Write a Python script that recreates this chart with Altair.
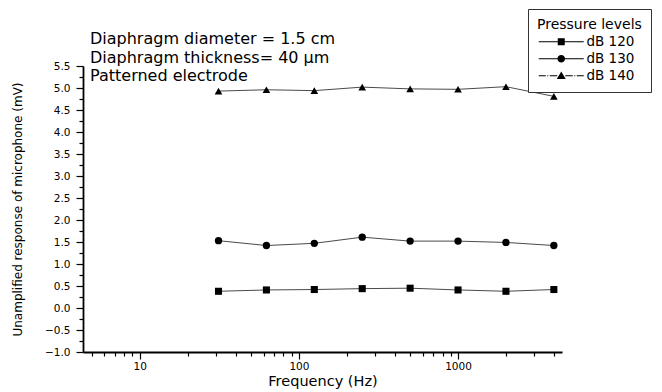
import altair as alt
import pandas as pd

# Octave-band test frequencies (Hz)
freqs = [31.25, 62.5, 125, 250, 500, 1000, 2000, 4000]

# Unamplified microphone output (mV) at each sound pressure level
levels = ["dB 120", "dB 130", "dB 140"]
resp_120 = [0.38, 0.41, 0.42, 0.44, 0.45, 0.41, 0.38, 0.42]
resp_130 = [1.53, 1.42, 1.47, 1.61, 1.52, 1.52, 1.49, 1.42]
resp_140 = [4.93, 4.96, 4.94, 5.02, 4.98, 4.97, 5.03, 4.81]

notes = [
    "Diaphragm diameter = 1.5 cm",
    "Diaphragm thickness= 40 \u03bcm",
    "Patterned electrode",
]

y_major = [-1.0, -0.5, 0.0, 0.5, 1.0, 1.5, 2.0, 2.5, 3.0, 3.5, 4.0, 4.5, 5.0, 5.5]
y_minor = [-0.75, -0.25, 0.25, 0.75, 1.25, 1.75, 2.25, 2.75, 3.25, 3.75, 4.25, 4.75, 5.25]
x_major = [10, 100, 1000]
x_minor = [5, 6, 7, 8, 9, 20, 30, 40, 50, 60, 70, 80, 90,
           200, 300, 400, 500, 600, 700, 800, 900, 2000, 3000, 4000]

df = pd.DataFrame({
    "freq": freqs * 3,
    "value": resp_120 + resp_130 + resp_140,
    "level": [lv for lv in levels for _ in freqs],
})
notes_df = pd.DataFrame({"note": ["\n".join(notes)]})

FONT = "DejaVu Sans"

xscale = alt.Scale(type="log", domain=[4.4, 4500], nice=False)
yscale = alt.Scale(domain=[-1.0, 5.5], nice=False, zero=False)

common_axis = dict(grid=False, domainColor="black", tickColor="black",
                   labelColor="black", titleColor="black",
                   labelFont=FONT, titleFont=FONT, titleFontWeight="normal")

x_axis_major = alt.Axis(orient="bottom", values=x_major, format="d", tickSize=7,
                        tickWidth=1.2, domainWidth=1.8, labelFontSize=10.5,
                        labelPadding=2, title="Frequency (Hz)", titleFontSize=14.5,
                        titleBaseline="alphabetic", titleY=33, **common_axis)
x_axis_minor = alt.Axis(orient="bottom", values=x_minor, labels=False, tickSize=4,
                        tickWidth=1.2, domain=False, title=None, grid=False,
                        tickColor="black")
y_axis_major = alt.Axis(orient="left", values=y_major, format=".1f", tickSize=7,
                        tickWidth=1.2, domainWidth=1.8, labelFontSize=10.5,
                        labelPadding=6,
                        title="Unamplified response of microphone (mV)",
                        titleFontSize=12, titleX=-66, titleY=143,
                        titleAngle=270, titleAlign="center",
                        titleBaseline="middle", **common_axis)
y_axis_minor = alt.Axis(orient="left", values=y_minor, labels=False, tickSize=4,
                        tickWidth=1.2, domain=False, title=None, grid=False,
                        tickColor="black")

# Legend symbols: thin filled bars for the connecting line (dash-dot for the
# top level) with the series marker in the middle
legend_paths = [
    "M-1,-0.1H2.8V0.1H-1ZM4.2,-0.1H8V0.1H4.2Z"
    "M2.8,-0.7H4.2V0.7H2.8Z",
    "M-1,-0.1H2.8V0.1H-1ZM4.2,-0.1H8V0.1H4.2Z"
    "M2.74,0A0.76,0.76,0,1,1,4.26,0A0.76,0.76,0,1,1,2.74,0Z",
    "M-1,-0.1H0.4V0.1H-1ZM0.7,-0.1H0.9V0.1H0.7ZM1.2,-0.1H2.7V0.1H1.2Z"
    "M4.3,-0.1H5.8V0.1H4.3ZM6.1,-0.1H6.3V0.1H6.1ZM6.6,-0.1H8V0.1H6.6Z"
    "M3.5,-0.85L4.4,0.65L2.6,0.65Z",
]

base = alt.Chart(df)

lines = base.mark_line(color="#4a4a4a", strokeWidth=1).encode(
    x=alt.X("freq:Q", scale=xscale, axis=x_axis_major),
    y=alt.Y("value:Q", scale=yscale, axis=y_axis_major),
    detail="level:N",
)

points = base.mark_point(filled=True, color="black", opacity=1).encode(
    x=alt.X("freq:Q", scale=xscale, axis=x_axis_minor),
    y=alt.Y("value:Q", scale=yscale, axis=y_axis_minor),
    shape=alt.Shape("level:N", scale=alt.Scale(domain=levels,
                    range=["square", "circle", "triangle-up"]), legend=None),
    size=alt.Size("level:O", scale=alt.Scale(domain=levels, range=[50, 58, 72]),
                  legend=None),
)

legend_layer = base.transform_filter("false").mark_point(
    filled=True, fill="black", opacity=1
).encode(
    shape=alt.Shape("level:N", scale=alt.Scale(domain=levels, range=legend_paths),
                    legend=alt.Legend(
                        title="Pressure levels", orient="none",
                        legendX=445, legendY=-57, direction="vertical",
                        padding=9, strokeColor="#333333", fillColor="white",
                        titleFont=FONT, titleFontSize=14,
                        titleFontWeight="normal", titleColor="black",
                        titlePadding=3, titleAnchor="start",
                        labelFont=FONT, labelFontSize=13.5, labelColor="black",
                        labelOffset=36, symbolSize=100,
                        symbolFillColor="black", rowPadding=2)),
)

notes_layer = alt.Chart(notes_df).mark_text(
    align="left", baseline="alphabetic", lineBreak="\n", lineHeight=18.7,
    font=FONT, fontSize=16, color="black", x=7, y=-22,
).encode(text="note:N")

chart = (
    alt.layer(lines, points, legend_layer, notes_layer)
    .resolve_scale(shape="independent", size="independent")
    .resolve_axis(x="independent", y="independent")
    .properties(
        width=479, height=286, autosize="none",
        padding={"left": 83, "top": 66, "right": 100, "bottom": 40},
        background="white",
    )
    .configure_view(stroke=None)
)

chart.save("out.html", embed_options={"renderer": "svg", "actions": False})
